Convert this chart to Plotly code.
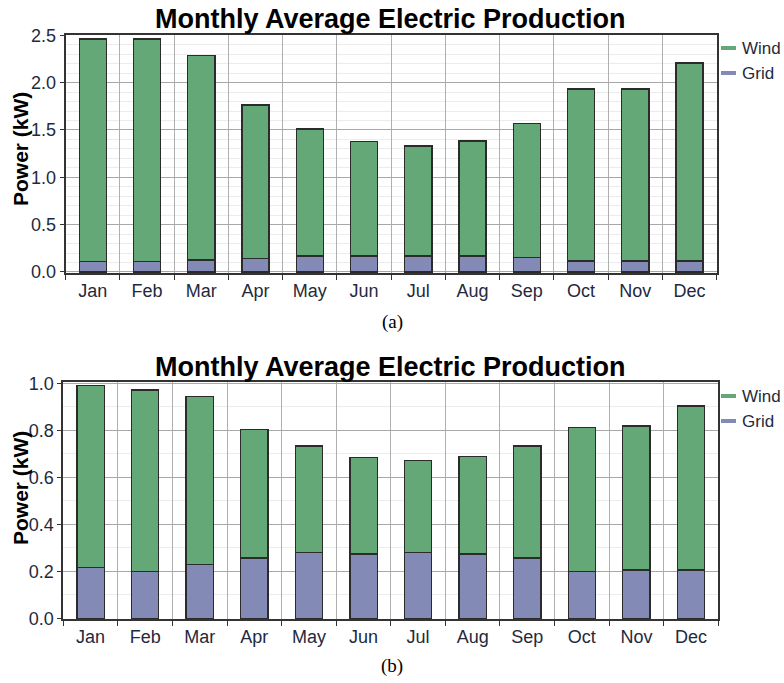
import plotly.graph_objects as go

months = ["Jan", "Feb", "Mar", "Apr", "May", "Jun", "Jul", "Aug", "Sep", "Oct", "Nov", "Dec"]

# Chart (a)
grid_a = [0.113, 0.113, 0.127, 0.140, 0.169, 0.169, 0.169, 0.169, 0.155, 0.116, 0.116, 0.116]
total_a = [2.46, 2.46, 2.29, 1.765, 1.51, 1.38, 1.33, 1.384, 1.568, 1.934, 1.934, 2.206]
wind_a = [round(t - g, 3) for t, g in zip(total_a, grid_a)]

# Chart (b)
grid_b = [0.217, 0.200, 0.228, 0.257, 0.279, 0.274, 0.279, 0.274, 0.257, 0.200, 0.206, 0.206]
total_b = [0.990, 0.971, 0.943, 0.803, 0.733, 0.683, 0.671, 0.688, 0.733, 0.813, 0.818, 0.903]
wind_b = [round(t - g, 3) for t, g in zip(total_b, grid_b)]

series_names = ["Wind", "Grid"]
chart_title = "Monthly Average Electric Production"
y_title = "Power (kW)"
captions = ["(a)", "(b)"]

WIND_C = "#64a877"
GRID_C = "#848ab6"
OUTLINE = "#2b2b2b"
TICK_C = "#1f2a3c"
SANS = "Liberation Sans, Arial, sans-serif"

W, H = 784, 683

fig = go.Figure()

for (grid, wind, xa, ya) in [(grid_a, wind_a, "x", "y"), (grid_b, wind_b, "x2", "y2")]:
    fig.add_trace(go.Bar(x=months, y=grid, name="Grid", marker=dict(color=GRID_C, line=dict(color=OUTLINE, width=1.3)),
                         width=0.5, xaxis=xa, yaxis=ya, showlegend=False))
    fig.add_trace(go.Bar(x=months, y=wind, name="Wind", marker=dict(color=WIND_C, line=dict(color=OUTLINE, width=1.3)),
                         width=0.5, xaxis=xa, yaxis=ya, showlegend=False))

def px_x(v):
    return v / W

def px_y(v):
    return 1 - v / H

dom_a = dict(x=[px_x(65.7), px_x(716.7)], y=[px_y(273.3), px_y(34.7)])
dom_b = dict(x=[px_x(63.3), px_x(718.3)], y=[px_y(619.3), px_y(382)])

def xaxis(dom, anchor):
    return dict(domain=dom, anchor=anchor, type="category", range=[-0.5, 11.5], automargin=False,
                tickson="boundaries", ticks="outside", ticklen=5, tickcolor="#333333", tickwidth=1,
                showgrid=True, gridcolor="#b0b0b0", gridwidth=1,
                showline=True, linecolor="#333333", linewidth=2, mirror=True,
                tickfont=dict(family=SANS, size=18, color=TICK_C), fixedrange=True)

def yaxis(dom, anchor, rng, dtick):
    return dict(domain=dom, anchor=anchor, range=rng, dtick=dtick, tick0=0, tickformat=".1f", automargin=False,
                ticks="outside", ticklen=4, tickcolor="#333333",
                showgrid=True, gridcolor="#a8a8a8", gridwidth=1, zeroline=False,
                minor=dict(dtick=0.1, tick0=0, showgrid=True, gridcolor="#ececec", ticks=""),
                showline=True, linecolor="#333333", linewidth=2, mirror=True,
                tickfont=dict(family=SANS, size=18, color=TICK_C), fixedrange=True)

fig.update_layout(
    width=W, height=H,
    margin=dict(l=0, r=0, t=0, b=0, autoexpand=False),
    paper_bgcolor="white", plot_bgcolor="white",
    barmode="stack", showlegend=False,
    xaxis=xaxis(dom_a["x"], "y"),
    yaxis=yaxis(dom_a["y"], "x", [-0.014, 2.506], 0.5),
    xaxis2=xaxis(dom_b["x"], "y2"),
    yaxis2=yaxis(dom_b["y"], "x2", [-0.004, 1.0055], 0.2),
)

annotations = []
shapes = []
# Titles
for ty in [19, 367]:
    annotations.append(dict(text="<b>" + chart_title + "</b>", x=px_x(390), y=px_y(ty), xref="paper", yref="paper",
                            xanchor="center", yanchor="middle", showarrow=False,
                            font=dict(family=SANS, size=27, color="#000000")))
# Y-axis titles
for cy in [149, 488]:
    annotations.append(dict(text="<b>" + y_title + "</b>", x=px_x(20), y=px_y(cy), xref="paper", yref="paper",
                            xanchor="center", yanchor="middle", showarrow=False, textangle=-90,
                            font=dict(family=SANS, size=21, color="#000000")))
# Captions
for cap, cy in zip(captions, [322, 666]):
    annotations.append(dict(text=cap, x=px_x(392), y=px_y(cy), xref="paper", yref="paper",
                            xanchor="center", yanchor="middle", showarrow=False,
                            font=dict(family="Liberation Serif, Times New Roman, serif", size=19, color="#000000")))
# Legends
for base in [48, 396]:
    for i, (nm, col) in enumerate(zip(series_names, [WIND_C, GRID_C])):
        yy = base + i * 25
        shapes.append(dict(type="line", xref="paper", yref="paper", x0=px_x(721), x1=px_x(736),
                           y0=px_y(yy), y1=px_y(yy), line=dict(color=col, width=4)))
        annotations.append(dict(text=nm, x=px_x(740), y=px_y(yy), xref="paper", yref="paper",
                                xanchor="left", yanchor="middle", showarrow=False,
                                font=dict(family=SANS, size=17, color=TICK_C)))

fig.update_layout(annotations=annotations, shapes=shapes)

fig.write_html("out.html", config={"displayModeBar": False},
               post_script="document.body.style.margin='0';document.documentElement.style.overflow='hidden';")
